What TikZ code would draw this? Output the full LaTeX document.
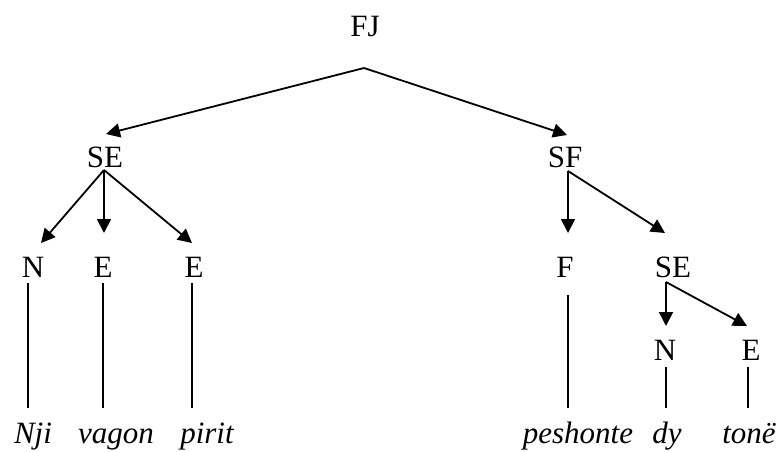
\documentclass[tikz,border=0pt]{standalone}
\usepackage{fontspec}
\setmainfont{Liberation Serif}
\usetikzlibrary{arrows.meta,calc}
\tikzstyle{lbl}=[inner sep=0,anchor=base,font=\fontsize{15.5}{18}\selectfont]
\tikzstyle{wrd}=[lbl,font=\fontsize{15.5}{18}\selectfont\itshape]
\tikzstyle{arr}=[draw,line width=0.9pt,-{Triangle[length=7pt,width=7pt]}]
\tikzstyle{leafline}=[draw,line width=0.75pt]
\begin{document}
\begin{tikzpicture}[x=0.5pt,y=-0.5pt]
  \useasboundingbox (0,0) rectangle (780,451);

  % categories
  \node[lbl] (fj) at (365,36) {FJ};
  \node[lbl] (sel) at (105,167) {SE};
  \node[lbl] (sf) at (565,167) {SF};
  \node[lbl] (n1) at (33,277) {N};
  \node[lbl] (e1) at (103,277) {E};
  \node[lbl] (e2) at (194,277) {E};
  \node[lbl] (f) at (565,277) {F};
  \node[lbl] (ser) at (673,277) {SE};
  \node[lbl] (n2) at (665,360) {N};
  \node[lbl] (e3) at (751,360) {E};

  % words
  \node[wrd] (nji) at (33,443) {Nji};
  \node[wrd] (vagon) at (116,443) {vagon};
  \node[wrd] (pirit) at (207,443) {pirit};
  \node[wrd] (peshonte) at (578,443) {peshonte};
  \node[wrd] (dy) at (667,443) {dy};
  \node[wrd] (tone) at (749,443) {tonë};

  \draw[arr] ($(fj.base)+(-1,32)$) -- ($(sel.base)+(1,-33)$);
  \draw[arr] ($(fj.base)+(-1,32)$) -- ($(sf.base)+(2,-32)$);
  \draw[arr] ($(sel.base)+(-1,3)$) -- ($(n1.base)+(8,-34)$);
  \draw[arr] ($(sel.base)+(-1,3)$) -- ($(e1.base)+(1,-44)$);
  \draw[arr] ($(sel.base)+(-1,3)$) -- ($(e2.base)+(-2,-34)$);
  \draw[arr] ($(sf.base)+(3,4)$) -- ($(f.base)+(3,-44)$);
  \draw[arr] ($(sf.base)+(3,4)$) -- ($(ser.base)+(-8,-44)$);
  \draw[arr] ($(ser.base)+(-7,5)$) -- ($(n2.base)+(1,-34)$);
  \draw[arr] ($(ser.base)+(-7,5)$) -- ($(e3.base)+(-4,-34)$);

  \draw[leafline] ($(n1.base)+(-5,6)$) -- ($(nji.base)+(-5,-35)$);
  \draw[leafline] ($(e1.base)+(0,6)$) -- ($(vagon.base)+(-13,-35)$);
  \draw[leafline] ($(e2.base)+(-2,6)$) -- ($(pirit.base)+(-15,-35)$);
  \draw[leafline] ($(f.base)+(3,18)$) -- ($(peshonte.base)+(-10,-35)$);
  \draw[leafline] ($(n2.base)+(1,7)$) -- ($(dy.base)+(-1,-35)$);
  \draw[leafline] ($(e3.base)+(-3,7)$) -- ($(tone.base)+(-1,-35)$);
\end{tikzpicture}
\end{document}
